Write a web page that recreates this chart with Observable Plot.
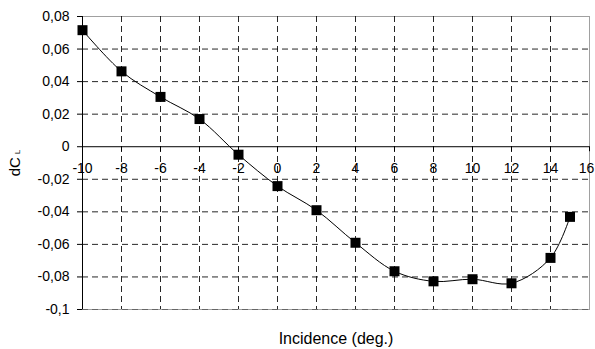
<!DOCTYPE html>
<html>
<head>
<meta charset="utf-8">
<script src="https://cdn.jsdelivr.net/npm/d3@7"></script>
<script src="https://cdn.jsdelivr.net/npm/@observablehq/plot@0.6"></script>
<style>
  html, body { margin: 0; padding: 0; background: #fff; }
  #chart svg { display: block; }
</style>
</head>
<body>
<div id="chart"></div>
<script>
// Data
const incidence = [-10, -8, -6, -4, -2, 0, 2, 4, 6, 8, 10, 12, 14, 15];
const dCL = [0.0716, 0.0463, 0.0306, 0.0170, -0.0049, -0.0242, -0.0390, -0.0590, -0.0765, -0.0827, -0.0814, -0.0839, -0.0683, -0.0431];
const xTicks = [-10, -8, -6, -4, -2, 0, 2, 4, 6, 8, 10, 12, 14, 16];
const yTicks = [0.08, 0.06, 0.04, 0.02, 0, -0.02, -0.04, -0.06, -0.08, -0.1];
const xGrid = [-8, -6, -4, -2, 0, 2, 4, 6, 8, 10, 12, 14];
const yGrid = [0.06, 0.04, 0.02, -0.02, -0.04, -0.06, -0.08];

const data = incidence.map((x, i) => ({x, y: dCL[i]}));
const fmt = d => d === 0 ? "0" : String(d).replace(".", ",");
const font = "'Liberation Sans', Arial, sans-serif";
const lastTick = xTicks[xTicks.length - 1];

const chart = Plot.plot({
  width: 595,
  height: 349,
  marginLeft: 82,
  marginRight: 6,
  marginTop: 16,
  marginBottom: 40,
  style: {fontFamily: font, fontSize: "14px", background: "#fff", color: "#000"},
  x: {type: "linear", domain: [-10, 16], axis: null},
  y: {type: "linear", domain: [-0.1, 0.08], axis: null},
  marks: [
    Plot.frame({stroke: "#a0a0a0"}),
    Plot.ruleX(xGrid, {stroke: "#000", strokeDasharray: "6,4", strokeOpacity: 0.85}),
    Plot.ruleY(yGrid, {stroke: "#000", strokeDasharray: "6,4", strokeOpacity: 0.85}),
    Plot.ruleY([-0.1], {stroke: "#666", strokeDasharray: "6,4"}),
    Plot.ruleX([-10], {stroke: "#000"}),
    Plot.ruleY([0], {stroke: "#000"}),
    // x ticks hanging below the zero line
    Plot.ruleX(xTicks, {x: d => d, y1: 0, y2: 0, insetTop: 0, insetBottom: -5, stroke: "#000"}),
    Plot.axisY({ticks: yTicks, tickFormat: fmt, tickSize: 5, tickPadding: 8, label: null, fontSize: 14}),
    Plot.text(xTicks.filter(d => d !== lastTick), {x: d => d, y: 0, text: d => String(d), dy: 21.5, lineAnchor: "middle", fontSize: 14}),
    Plot.text([lastTick], {x: d => d, y: 0, text: d => String(d), dx: -3, dy: 21.5, lineAnchor: "middle", fontSize: 14}),
    Plot.line(data, {x: "x", y: "y", curve: "catmull-rom", stroke: "#000", strokeWidth: 1}),
    Plot.dot(data, {x: "x", y: "y", symbol: "square", r: 5.64, fill: "#000", stroke: null}),
    Plot.text(["Incidence (deg.)"], {frameAnchor: "bottom", dy: 29, lineAnchor: "middle", fontSize: 16}),
    Plot.text(["dC"], {frameAnchor: "left", rotate: -90, dx: -62.5, lineAnchor: "bottom", textAnchor: "middle", fontSize: 15})
  ]
});

// subscript L on the y label
d3.select(chart).selectAll("text").filter(function () { return this.textContent === "dC"; })
  .append("tspan").attr("dx", 3).attr("font-size", 8).text("L");

document.getElementById("chart").appendChild(chart);
</script>
</body>
</html>
